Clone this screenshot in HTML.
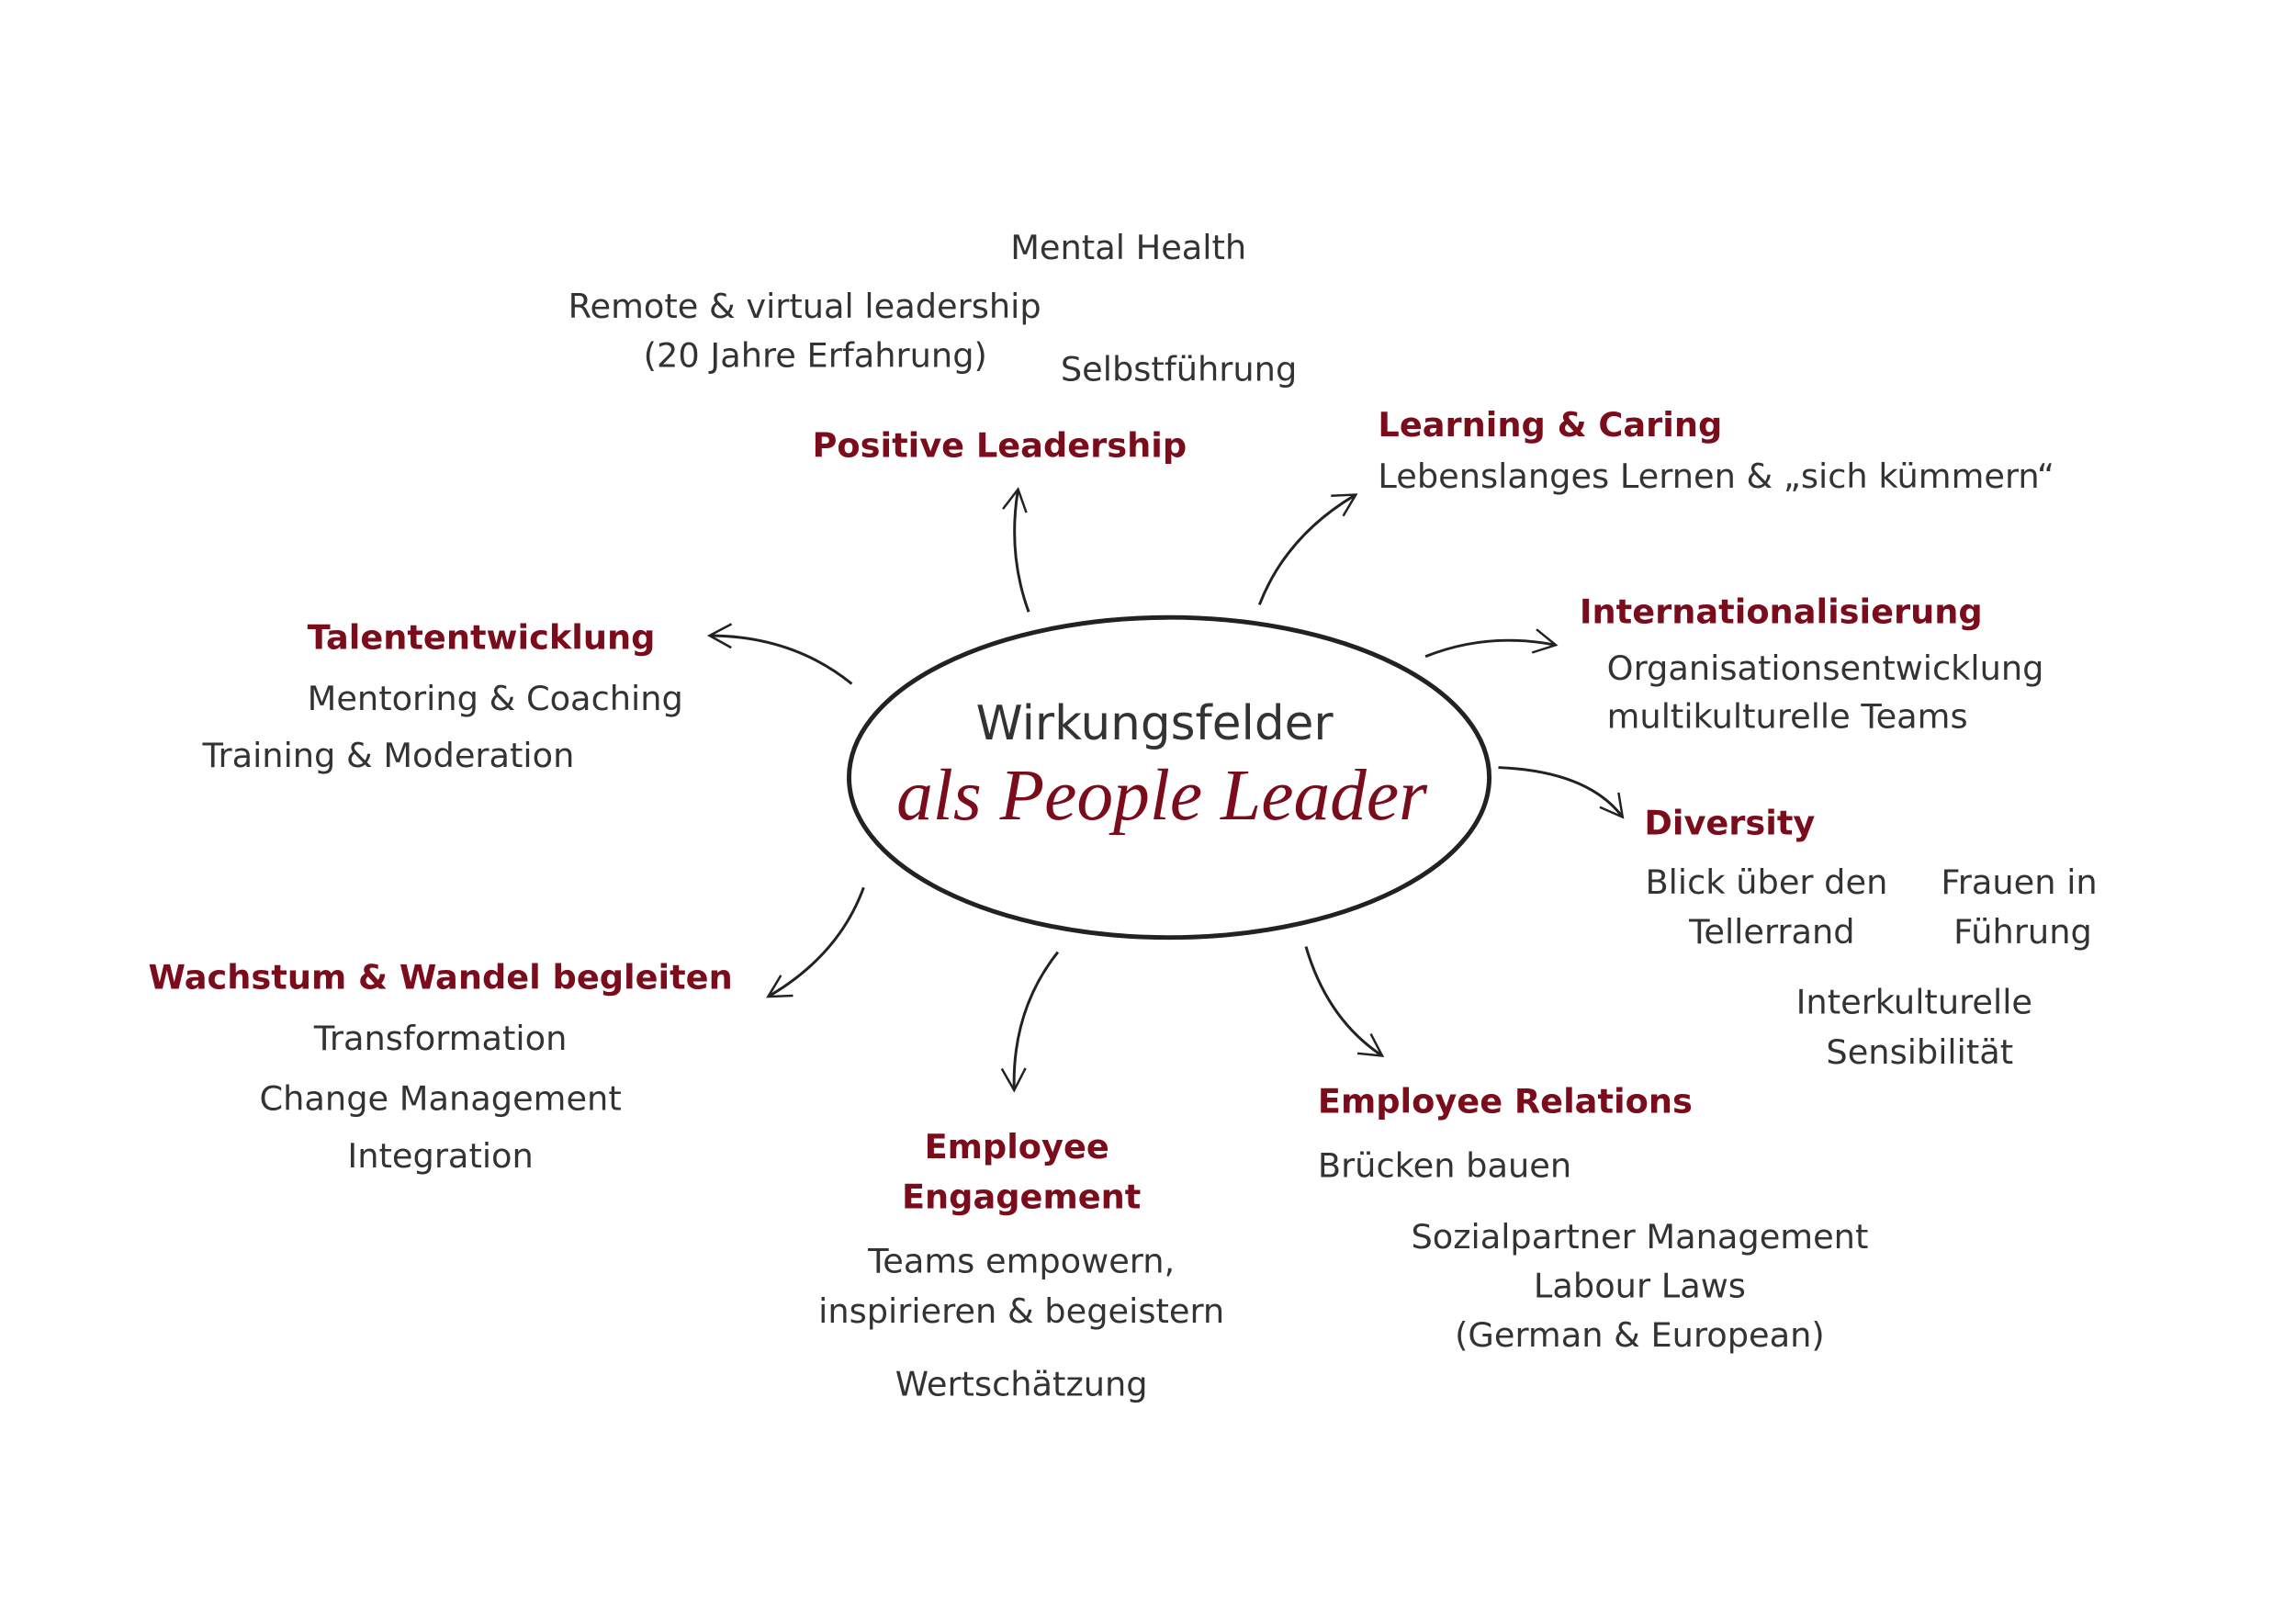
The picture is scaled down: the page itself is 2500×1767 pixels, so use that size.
<!DOCTYPE html>
<html><head><meta charset="utf-8"><style>
html,body{margin:0;padding:0;background:#fff}
svg{display:block}
text{font-family:"DejaVu Sans","Liberation Sans",sans-serif;fill:#333;font-size:37px;dominant-baseline:central}
.h{fill:#7a0c1c;font-weight:bold;font-size:37px}
</style></head><body>
<svg width="2500" height="1767" viewBox="0 0 2500 1767" xmlns="http://www.w3.org/2000/svg">
<defs>
<marker id="a" markerWidth="30" markerHeight="30" refX="24" refY="15" orient="auto" markerUnits="userSpaceOnUse">
<path d="M2,2 L26,15 L2,28" fill="none" stroke="#222" stroke-width="2.5"/>
</marker>
</defs>
<g transform="scale(0.993,0.99)">
<g fill="none" stroke="#222" stroke-width="3">
<ellipse cx="1282" cy="855" rx="351" ry="176" stroke-width="5"/>
<path d="M1128,673 Q1105,610 1116,540" marker-end="url(#a)"/>
<path d="M1381,665 Q1410,590 1485,545" marker-end="url(#a)"/>
<path d="M1563,722 Q1630,695 1704,709" marker-end="url(#a)"/>
<path d="M1643,844 Q1740,848 1778,897" marker-end="url(#a)"/>
<path d="M1432,1041 Q1455,1120 1514,1160" marker-end="url(#a)"/>
<path d="M1160,1047 Q1110,1110 1112,1197" marker-end="url(#a)"/>
<path d="M947,976 Q920,1050 844,1095" marker-end="url(#a)"/>
<path d="M934,752 Q870,700 780,699" marker-end="url(#a)"/>
</g>
<text x="1266" y="796" text-anchor="middle" style="font-size:52px">Wirkungsfelder</text>
<text x="1274" y="875" text-anchor="middle" style="font-size:80px;fill:#7a0c1c;font-family:'Liberation Serif',serif;font-style:italic">als People Leader</text>

<text x="1108" y="272">Mental Health</text>
<text x="623" y="337">Remote &amp; virtual leadership</text>
<text x="894" y="391" text-anchor="middle">(20 Jahre Erfahrung)</text>
<text x="1163" y="406">Selbstführung</text>
<text x="1096" y="490" text-anchor="middle" class="h">Positive Leadership</text>
<text x="1511" y="467" class="h">Learning &amp; Caring</text>
<text x="1511" y="524">Lebenslanges Lernen &amp; „sich kümmern“</text>
<text x="1732" y="673" class="h">Internationalisierung</text>
<text x="1762" y="735">Organisationsentwicklung</text>
<text x="1762" y="788">multikulturelle Teams</text>
<text x="1803" y="905" class="h">Diversity</text>
<text x="1937" y="970" text-anchor="middle">Blick über den</text>
<text x="1943" y="1025" text-anchor="middle">Tellerrand</text>
<text x="2214" y="970" text-anchor="middle">Frauen in</text>
<text x="2218" y="1025" text-anchor="middle">Führung</text>
<text x="2099" y="1102" text-anchor="middle">Interkulturelle</text>
<text x="2105" y="1157" text-anchor="middle">Sensibilität</text>
<text x="1445" y="1211" class="h">Employee Relations</text>
<text x="1445" y="1282">Brücken bauen</text>
<text x="1798" y="1360" text-anchor="middle">Sozialpartner Management</text>
<text x="1798" y="1414" text-anchor="middle">Labour Laws</text>
<text x="1798" y="1468" text-anchor="middle">(German &amp; European)</text>
<text x="1115" y="1261" text-anchor="middle" class="h">Employee</text>
<text x="1120" y="1316" text-anchor="middle" class="h">Engagement</text>
<text x="1120" y="1387" text-anchor="middle">Teams empowern,</text>
<text x="1120" y="1442" text-anchor="middle">inspirieren &amp; begeistern</text>
<text x="1120" y="1522" text-anchor="middle">Wertschätzung</text>
<text x="483" y="1075" text-anchor="middle" class="h">Wachstum &amp; Wandel begleiten</text>
<text x="483" y="1142" text-anchor="middle">Transformation</text>
<text x="483" y="1208" text-anchor="middle">Change Management</text>
<text x="483" y="1271" text-anchor="middle">Integration</text>
<text x="337" y="701" class="h">Talententwicklung</text>
<text x="337" y="768">Mentoring &amp; Coaching</text>
<text x="222" y="831">Training &amp; Moderation</text>
</g>
</svg>
</body></html>
